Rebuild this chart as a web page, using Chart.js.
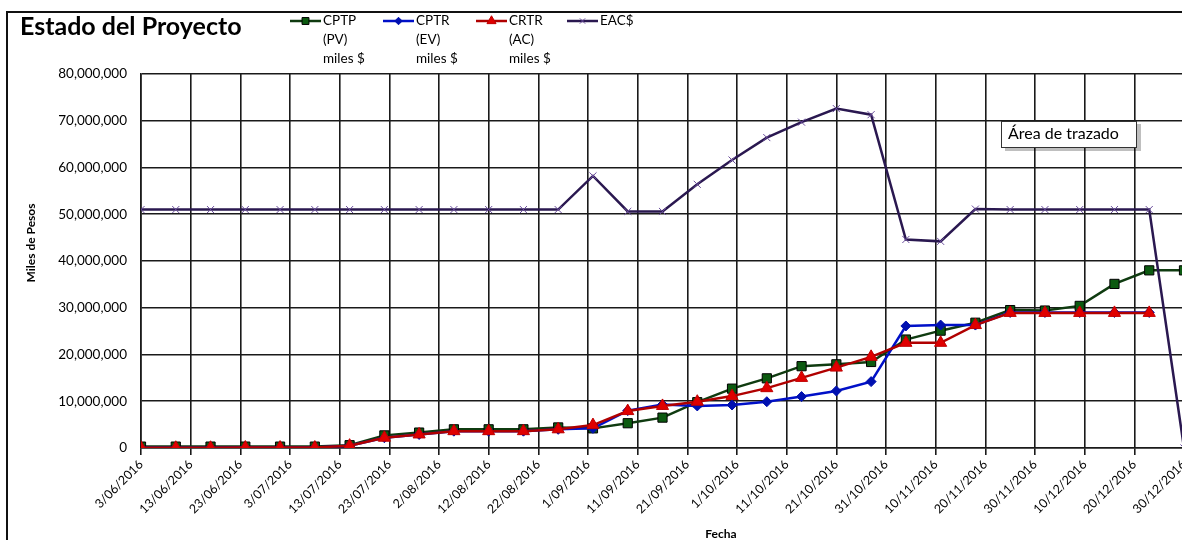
<!DOCTYPE html>
<html>
<head>
<meta charset="utf-8">
<script src="https://cdn.jsdelivr.net/npm/chart.js@4.4.0/dist/chart.umd.min.js"></script>
<style>
html, body { margin: 0; padding: 0; background: #fff; overflow: hidden; }
#wrap { position: absolute; left: 0; top: 0; width: 1200px; height: 560px; }
</style>
</head>
<body>
<div id="wrap"><canvas id="grafico"></canvas></div>
<script>
// fechas de corte semanales
const fechas = [
    '2016-06-03', '2016-06-10', '2016-06-17', '2016-06-24', '2016-07-01', '2016-07-08',
    '2016-07-15', '2016-07-22', '2016-07-29', '2016-08-05', '2016-08-12', '2016-08-19',
    '2016-08-26', '2016-09-02', '2016-09-09', '2016-09-16', '2016-09-23', '2016-09-30',
    '2016-10-07', '2016-10-14', '2016-10-21', '2016-10-28', '2016-11-04', '2016-11-11',
    '2016-11-18', '2016-11-25', '2016-12-02', '2016-12-09', '2016-12-16', '2016-12-23',
    '2016-12-30'
];

// etiquetas del eje X (cada 10 dias)
const etiquetas_x = [
    '3/06/2016', '13/06/2016', '23/06/2016', '3/07/2016', '13/07/2016', '23/07/2016',
    '2/08/2016', '12/08/2016', '22/08/2016', '1/09/2016', '11/09/2016', '21/09/2016',
    '1/10/2016', '11/10/2016', '21/10/2016', '31/10/2016', '10/11/2016', '20/11/2016',
    '30/11/2016', '10/12/2016', '20/12/2016', '30/12/2016'
];

const cptp = [
    300000, 300000, 300000, 300000, 300000, 300000, 600000, 2700000, 3300000, 4000000,
    4000000, 4000000, 4400000, 4200000, 5300000, 6500000, 9800000, 12700000, 14900000, 17500000,
    17900000, 18400000, 23200000, 25100000, 26800000, 29500000, 29400000, 30400000, 35100000, 38000000,
    38000000
];
const cptr = [
    50000, 50000, 50000, 100000, 100000, 100000, 500000, 2200000, 2900000, 3600000,
    3600000, 3600000, 4000000, 4200000, 8000000, 9300000, 9000000, 9200000, 9900000, 11000000,
    12200000, 14200000, 26100000, 26300000, 26300000, 29000000, 29000000, 29000000, 29000000, 29000000,
    null
];
const crtr = [
    50000, 50000, 50000, 100000, 100000, 100000, 500000, 2200000, 2900000, 3600000,
    3600000, 3600000, 4000000, 4900000, 7900000, 9000000, 9900000, 11100000, 12800000, 15000000,
    17200000, 19500000, 22500000, 22500000, 26300000, 28900000, 28900000, 28900000, 28900000, 28900000,
    null
];
const eac = [
    51000000, 51000000, 51000000, 51000000, 51000000, 51000000, 51000000, 51000000, 51000000, 51000000,
    51000000, 51000000, 51000000, 58200000, 50600000, 50600000, 56400000, 61600000, 66400000, 69700000,
    72600000, 71300000, 44600000, 44200000, 51100000, 51000000, 51000000, 51000000, 51000000, 51000000,
    0
];

const nombres = [
    ['CPTP', '(PV)', 'miles $'],
    ['CPTR', '(EV)', 'miles $'],
    ['CRTR', '(AC)', 'miles $'],
    ['EAC$']
];

const fuente = 'Lato, "Liberation Sans", sans-serif';
const dia0 = Date.parse(fechas[0]);

function puntos(valores) {
    return valores.map((v, i) => ({ x: Math.round((Date.parse(fechas[i]) - dia0) / 86400000), y: v }));
}

const series = [
    { label: nombres[0].join(' '), data: puntos(cptp), borderColor: '#0f3b10', backgroundColor: '#0c5a10',
      pointBorderColor: '#000', pointStyle: 'rect', pointRadius: 6.5, order: 4 },
    { label: nombres[1].join(' '), data: puntos(cptr), borderColor: '#0010c8', backgroundColor: '#0010b0',
      pointBorderColor: '#0010b0', pointStyle: 'rectRot', pointRadius: 5, order: 3 },
    { label: nombres[2].join(' '), data: puntos(crtr), borderColor: '#b00000', backgroundColor: '#e00000',
      pointBorderColor: '#c00000', pointStyle: 'triangle', pointRadius: 7, order: 2 },
    { label: nombres[3].join(' '), data: puntos(eac), borderColor: '#2a1850', backgroundColor: '#6a4c9c',
      pointBorderColor: '#6a4c9c', pointStyle: 'crossRot', pointRadius: 5, order: 1 }
];

series.forEach(s => {
    s.borderWidth = 2.5;
    s.pointBorderWidth = 1;
    s.pointBackgroundColor = s.backgroundColor;
    s.fill = false;
    s.tension = 0;
    s.spanGaps = false;
});

// titulo, leyenda y textos sueltos
const decoracion = {
    id: 'decoracion',
    beforeDraw(chart) {
        const c = chart.ctx;
        c.save();
        c.fillStyle = '#fff';
        c.fillRect(0, 0, chart.width, chart.height);
        c.strokeStyle = '#111';
        c.lineWidth = 2;
        c.strokeRect(7, 12, chart.width + 20, chart.height + 20);
        c.restore();
    },
    afterDraw(chart) {
        const c = chart.ctx;
        c.save();
        c.fillStyle = '#000';
        c.textBaseline = 'middle';
        c.textAlign = 'left';
        c.font = 'bold 25px ' + fuente;
        c.fillText('Estado del Proyecto', 20, 27);

        // leyenda
        const xs = [290, 383, 476, 567];
        c.font = '13.5px ' + fuente;
        series.forEach((s, i) => {
            const x = xs[i];
            c.strokeStyle = s.borderColor;
            c.lineWidth = 2.5;
            c.beginPath();
            c.moveTo(x, 21);
            c.lineTo(x + 31, 21);
            c.stroke();
            c.fillStyle = s.backgroundColor;
            c.strokeStyle = s.pointBorderColor;
            c.lineWidth = 1;
            Chart.helpers.drawPoint(c, { pointStyle: s.pointStyle, radius: s.pointRadius * 0.75, borderWidth: 1, rotation: 0 }, x + 15.5, 21);
            c.fillStyle = '#000';
            nombres[i].forEach((t, j) => c.fillText(t, x + 33, 21 + j * 19));
        });

        // titulos de ejes
        c.font = 'bold 12px ' + fuente;
        c.textAlign = 'center';
        c.fillText('Fecha', 721, 534);
        c.translate(31, 243);
        c.rotate(-Math.PI / 2);
        c.fillText('Miles de Pesos', 0, 0);
        c.restore();

        // cuadro "Área de trazado"
        c.save();
        c.fillStyle = 'rgba(0,0,0,0.25)';
        c.fillRect(1005, 124, 136, 27);
        c.fillStyle = '#fff';
        c.fillRect(1001, 121, 135, 26);
        c.strokeStyle = '#333';
        c.lineWidth = 1;
        c.strokeRect(1001.5, 121.5, 135, 26);
        c.fillStyle = '#000';
        c.font = '16px ' + fuente;
        c.textBaseline = 'middle';
        c.fillText('Área de trazado', 1008, 134);
        c.restore();
    }
};

const ctx = document.getElementById('grafico').getContext('2d');

new Chart(ctx, {
    type: 'line',
    data: { datasets: series },
    options: {
        responsive: true,
        maintainAspectRatio: false,
        animation: false,
        layout: { padding: { top: 74, right: 16, bottom: 0, left: 0 } },
        plugins: {
            legend: { display: false },
            tooltip: { enabled: false }
        },
        scales: {
            x: {
                type: 'linear',
                min: 0,
                max: 210,
                afterFit: (s) => { s.height = 112; },
                grid: { color: '#1a1a1a', lineWidth: 1.6, tickLength: 7, tickColor: '#1a1a1a' },
                border: { color: '#1a1a1a', width: 1.6 },
                ticks: {
                    stepSize: 10,
                    autoSkip: false,
                    minRotation: 45,
                    maxRotation: 45,
                    padding: 2,
                    color: '#000',
                    font: { family: fuente, size: 12.5 },
                    callback: (v) => etiquetas_x[Math.round(v / 10)]
                }
            },
            y: {
                min: 0,
                max: 80000000,
                afterFit: (s) => { s.width = 141; },
                grid: { color: '#1a1a1a', lineWidth: 1.6, drawTicks: false },
                border: { color: '#1a1a1a', width: 1.6 },
                ticks: {
                    stepSize: 10000000,
                    padding: 14,
                    color: '#000',
                    font: { family: fuente, size: 13.5 },
                    callback: (v) => v.toLocaleString('en-US')
                }
            }
        }
    },
    plugins: [decoracion]
});
</script>
</body>
</html>
